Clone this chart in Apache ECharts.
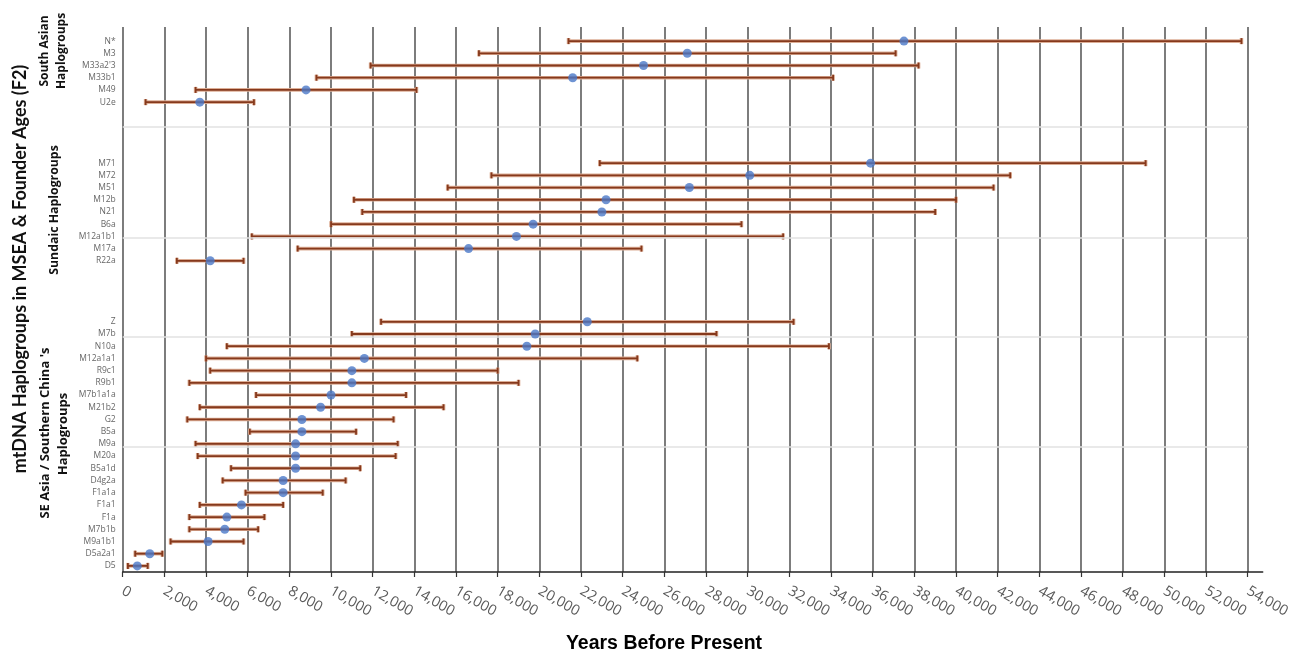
<!DOCTYPE html>
<html>
<head>
<meta charset="utf-8">
<script src="https://cdn.jsdelivr.net/npm/echarts@6/dist/echarts.min.js"></script>
<style>
html,body{margin:0;padding:0;background:#fff;}
#chart{width:1303px;height:664px;}
</style>
</head>
<body>
<div id="chart"></div>
<script>
// ---- Data (years before present) ----
const southAsianNames = ['N*', 'M3', "M33a2'3", 'M33b1', 'M49', 'U2e'];
const southAsianLow   = [21400, 17100, 11900,  9300,  3500, 1100];
const southAsianAge   = [37500, 27100, 25000, 21600,  8800, 3700];
const southAsianHigh  = [53700, 37100, 38200, 34100, 14100, 6300];

const sundaicNames = ['M71', 'M72', 'M51', 'M12b', 'N21', 'B6a', 'M12a1b1', 'M17a', 'R22a'];
const sundaicLow   = [22900, 17700, 15600, 11100, 11500, 10000,  6200,  8400, 2600];
const sundaicAge   = [35900, 30100, 27200, 23200, 23000, 19700, 18900, 16600, 4200];
const sundaicHigh  = [49100, 42600, 41800, 40000, 39000, 29700, 31700, 24900, 5800];

const seAsiaNames = ['Z', 'M7b', 'N10a', 'M12a1a1', 'R9c1', 'R9b1', 'M7b1a1a', 'M21b2', 'G2', 'B5a', 'M9a',
                     'M20a', 'B5a1d', 'D4g2a', 'F1a1a', 'F1a1', 'F1a', 'M7b1b', 'M9a1b1', 'D5a2a1', 'D5'];
const seAsiaLow   = [12400, 11000,  5000,  4000,  4200,  3200,  6400,  3700,  3100,  6100,  3500,
                      3600,  5200,  4800,  5900,  3700,  3200,  3200,  2300,   600,  250];
const seAsiaAge   = [22300, 19800, 19400, 11600, 11000, 11000, 10000,  9500,  8600,  8600,  8300,
                      8300,  8300,  7700,  7700,  5700,  5000,  4900,  4100,  1300,  700];
const seAsiaHigh  = [32200, 28500, 33900, 24700, 18000, 19000, 13600, 15400, 13000, 11200, 13200,
                     13100, 11400, 10700,  9600,  7700,  6800,  6500,  5800,  1900, 1200];

const gapSize = 4; // empty rows between groups
const xTicks = { min: 0, max: 54000, interval: 2000 };
const faintLines = [7.02, 16.14, 24.21, 33.25]; // light horizontal rules (row-index units)

// ---- Build categories & series data ----
function gap(tag) { const a = []; for (let i = 0; i < gapSize; i++) a.push('__' + tag + i); return a; }
const categories = [].concat(southAsianNames, gap('a'), sundaicNames, gap('b'), seAsiaNames);
const groups = [
  [southAsianNames, southAsianLow, southAsianAge, southAsianHigh],
  [sundaicNames, sundaicLow, sundaicAge, sundaicHigh],
  [seAsiaNames, seAsiaLow, seAsiaAge, seAsiaHigh]
];
const barData = [], pointData = [];
groups.forEach(g => {
  g[0].forEach((n, i) => {
    const idx = categories.indexOf(n);
    barData.push([g[1][i], g[3][i], idx]);
    pointData.push([g[2][i], idx]);
  });
});

const chart = echarts.init(document.getElementById('chart'), null, { renderer: 'canvas' });
const LEFT = 122.7, RIGHT = 55.3, BOTTOM = 92;

const option = {
  backgroundColor: '#ffffff',
  animation: false,
  grid: [
    { left: LEFT, right: RIGHT, top: 27, bottom: BOTTOM },       // vertical gridlines + labels
    { left: LEFT, right: RIGHT, top: 35, bottom: BOTTOM },       // data
    { left: LEFT, right: 40.3, top: 27, bottom: BOTTOM }         // axis line
  ],
  xAxis: [
    {
      gridIndex: 0, type: 'value', position: 'bottom', min: xTicks.min, max: xTicks.max, interval: xTicks.interval,
      axisLine: { show: false, onZero: false },
      axisTick: { show: true, length: 5, lineStyle: { color: '#333', width: 1.2 } },
      splitLine: { show: true, lineStyle: { color: '#5c5c5c', width: 1.6 } },
      axisLabel: {
        rotate: -30, margin: 18, color: '#595959', fontSize: 14.5,
        fontFamily: 'Open Sans',
        formatter: v => v.toLocaleString('en-US')
      }
    },
    {
      gridIndex: 1, type: 'value', min: xTicks.min, max: xTicks.max, interval: xTicks.interval,
      show: false
    },
    {
      gridIndex: 2, type: 'value', min: 0, max: 1,
      axisLine: { show: true, onZero: false, lineStyle: { color: '#222', width: 1.5 } },
      axisTick: { show: false }, axisLabel: { show: false }, splitLine: { show: false }
    }
  ],
  yAxis: [
    { gridIndex: 0, type: 'value', inverse: true, min: -1.156, max: 43.5, show: false, splitLine: { show: false } },
    {
      gridIndex: 1, type: 'category', inverse: true, data: categories,
      axisLine: { show: false }, axisTick: { show: false }, splitLine: { show: false },
      axisLabel: {
        interval: 0, margin: 7, fontSize: 8.5, color: '#666', fontFamily: 'Open Sans',
        formatter: v => (v.indexOf('__') === 0 ? '' : v)
      }
    },
    { gridIndex: 2, type: 'value', show: false }
  ],
  series: [
    {
      type: 'scatter', xAxisIndex: 0, yAxisIndex: 0, data: [], silent: true,
      markLine: {
        silent: true, symbol: 'none', label: { show: false },
        lineStyle: { color: '#e2e2e2', width: 1.5, type: 'solid' },
        data: faintLines.map(v => ({ yAxis: v }))
      }
    },
    {
      type: 'custom', xAxisIndex: 1, yAxisIndex: 1, data: barData, z: 3,
      encode: { x: [0, 1], y: 2 },
      renderItem: function (params, api) {
        const p1 = api.coord([api.value(0), api.value(2)]);
        const p2 = api.coord([api.value(1), api.value(2)]);
        const h = 3;
        const mk = (stroke, w) => [
          { type: 'line', shape: { x1: p1[0], y1: p1[1], x2: p2[0], y2: p2[1] }, style: { stroke: stroke, lineWidth: w } },
          { type: 'line', shape: { x1: p1[0], y1: p1[1] - h, x2: p1[0], y2: p1[1] + h }, style: { stroke: stroke, lineWidth: w } },
          { type: 'line', shape: { x1: p2[0], y1: p2[1] - h, x2: p2[0], y2: p2[1] + h }, style: { stroke: stroke, lineWidth: w } }
        ];
        return { type: 'group', children: mk('#dcae96', 3.6).concat(mk('#86391c', 1.8)) };
      }
    },
    {
      type: 'scatter', xAxisIndex: 1, yAxisIndex: 1, data: pointData, z: 5,
      symbol: 'circle', symbolSize: 9,
      itemStyle: { color: '#4a78c8' }
    }
  ],
  graphic: [
    { type: 'text', x: 20, y: 269, rotation: Math.PI / 2,
      style: { text: 'mtDNA Haplogroups in MSEA & Founder Ages (F2)', font: 'bold 18px Lato', fill: '#111', align: 'center', verticalAlign: 'middle' } },
    { type: 'text', x: 45, y: 51, rotation: Math.PI / 2,
      style: { text: 'South Asian', font: 'bold 12px "Open Sans"', fill: '#111', align: 'center', verticalAlign: 'middle' } },
    { type: 'text', x: 62, y: 51, rotation: Math.PI / 2,
      style: { text: 'Haplogroups', font: 'bold 12px "Open Sans"', fill: '#111', align: 'center', verticalAlign: 'middle' } },
    { type: 'text', x: 54, y: 210, rotation: Math.PI / 2,
      style: { text: 'Sundaic Haplogroups', font: 'bold 12.3px "Open Sans"', fill: '#111', align: 'center', verticalAlign: 'middle' } },
    { type: 'text', x: 45, y: 433, rotation: Math.PI / 2,
      style: { text: "SE Asia / Southern China 's", font: 'bold 13px "Open Sans"', fill: '#111', align: 'center', verticalAlign: 'middle' } },
    { type: 'text', x: 63, y: 434, rotation: Math.PI / 2,
      style: { text: 'Haplogroups', font: 'bold 13px "Open Sans"', fill: '#111', align: 'center', verticalAlign: 'middle' } },
    { type: 'text', x: 664, y: 644,
      style: { text: 'Years Before Present', font: 'bold 19.5px "Liberation Sans"', fill: '#000', align: 'center', verticalAlign: 'middle' } }
  ]
};
chart.setOption(option);
</script>
</body>
</html>
